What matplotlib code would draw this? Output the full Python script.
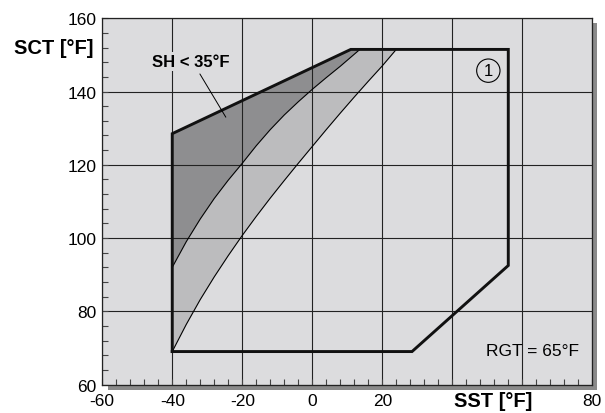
import matplotlib
matplotlib.use("Agg")
import matplotlib.pyplot as plt
from matplotlib.patches import Rectangle
from matplotlib.ticker import MultipleLocator, FixedLocator

plt.rcParams['font.family'] = ['Liberation Sans', 'DejaVu Sans']

# operating envelope (SST, SCT in °F)
sst_env = [-40, -40, 11, 56, 56, 28.5, -40]
sct_env = [69, 128.5, 151.5, 151.5, 92.5, 69, 69]

# SH < 35°F boundary curve
sst_c1 = [-40, -36, -32, -28, -24, -20, -16, -12, -8, -4, 0, 4, 8, 13.6]
sct_c1 = [92, 99, 105.2, 110.8, 115.8, 120.4, 125.2, 129.6, 133.6, 137.2, 140.6, 143.8, 146.9, 151.5]

# lower boundary curve of the medium zone
sst_c2 = [-40, -36, -32, -28, -24, -20, -16, -12, -8, -4, 0, 4, 8, 12, 16, 20, 24]
sct_c2 = [69, 76.4, 83.2, 89.4, 95.2, 100.7, 105.9, 110.9, 115.7, 120.4, 125.0,
          129.6, 134.1, 138.5, 142.8, 147.0, 151.5]

x_ticklabels = {-60: "-60", -40: "-40", -20: "-20", 0: "0", 20: "20", 80: "80"}
y_ticks = [60, 80, 100, 120, 140, 160]

bg = "#dcdcde"
dark = "#8e8e90"
medium = "#bcbcbe"

fig = plt.figure(figsize=(6.05, 4.14), dpi=100)
ax = fig.add_axes([0.169, 0.0688, 0.810, 0.8846])
ax.set_zorder(2)

# drop shadow behind the plot area
W, H = 605, 414
fig.patches.append(Rectangle((108 / W, 1 - 391 / H), (597 - 108) / W, (391 - 24) / H,
                             transform=fig.transFigure, fc="#8a8a8a", ec="none", zorder=-1))

ax.set_facecolor(bg)
ax.set_xlim(-60, 80)
ax.set_ylim(60, 160)

# shaded zones
ax.fill(sst_c1 + [11, -40], sct_c1 + [151.5, 128.5], color=dark, lw=0, zorder=1)
ax.fill(sst_c1 + sst_c2[::-1], sct_c1 + sct_c2[::-1], color=medium, lw=0, zorder=1)
ax.plot(sst_c1, sct_c1, color="black", lw=0.8, zorder=3)
ax.plot(sst_c2, sct_c2, color="black", lw=0.8, zorder=3)
ax.plot(sst_env, sct_env, color="#111111", lw=2.1, zorder=4, solid_joinstyle="miter")

# grid + ticks
ax.xaxis.set_major_locator(MultipleLocator(20))
ax.yaxis.set_major_locator(FixedLocator(y_ticks))
ax.xaxis.set_minor_locator(MultipleLocator(4))
ax.yaxis.set_minor_locator(MultipleLocator(4))
ax.grid(True, which="major", color="#222222", lw=0.8)
ax.set_axisbelow(False)
ax.tick_params(which="both", direction="in", length=4, width=0.8, color="#444444",
               top=False, right=False, labelsize=12.5)
ax.tick_params(axis="x", pad=6)
ax.tick_params(axis="y", pad=4)
ax.set_xticks(list(range(-60, 81, 20)))
ax.set_xticklabels([x_ticklabels.get(v, "") for v in range(-60, 81, 20)])
ax.set_yticklabels([str(v) for v in y_ticks])
for s in ax.spines.values():
    s.set_linewidth(0.9)
    s.set_color("#222222")
    s.set_zorder(5)

# axis titles
fig.text(93 / W, 1 - 48 / H, "SCT [°F]", ha="right", va="center", fontsize=14.5, fontweight="bold")
fig.text(493 / W, 1 - 402 / H, "SST [°F]", ha="center", va="center", fontsize=14.5, fontweight="bold")

# annotations
ax.text(-34.7, 148.2, "SH < 35°F", ha="center", va="center", fontsize=12, fontweight="bold",
        bbox=dict(boxstyle="square,pad=0.1", fc=bg, ec="none"), zorder=6)
ax.annotate("", xy=(-24.7, 133), xytext=(-32.1, 144.8),
            arrowprops=dict(arrowstyle="-", color="black", lw=0.7, shrinkA=0, shrinkB=0), zorder=6)
ax.text(50.3, 145.7, "1", ha="center", va="center", fontsize=12,
        bbox=dict(boxstyle="circle,pad=0.25", fc="none", ec="black", lw=0.8), zorder=6)
ax.text(76.3, 69.4, "RGT = 65°F", ha="right", va="center", fontsize=12.5, zorder=6)

fig.savefig("out.png", dpi=100)
